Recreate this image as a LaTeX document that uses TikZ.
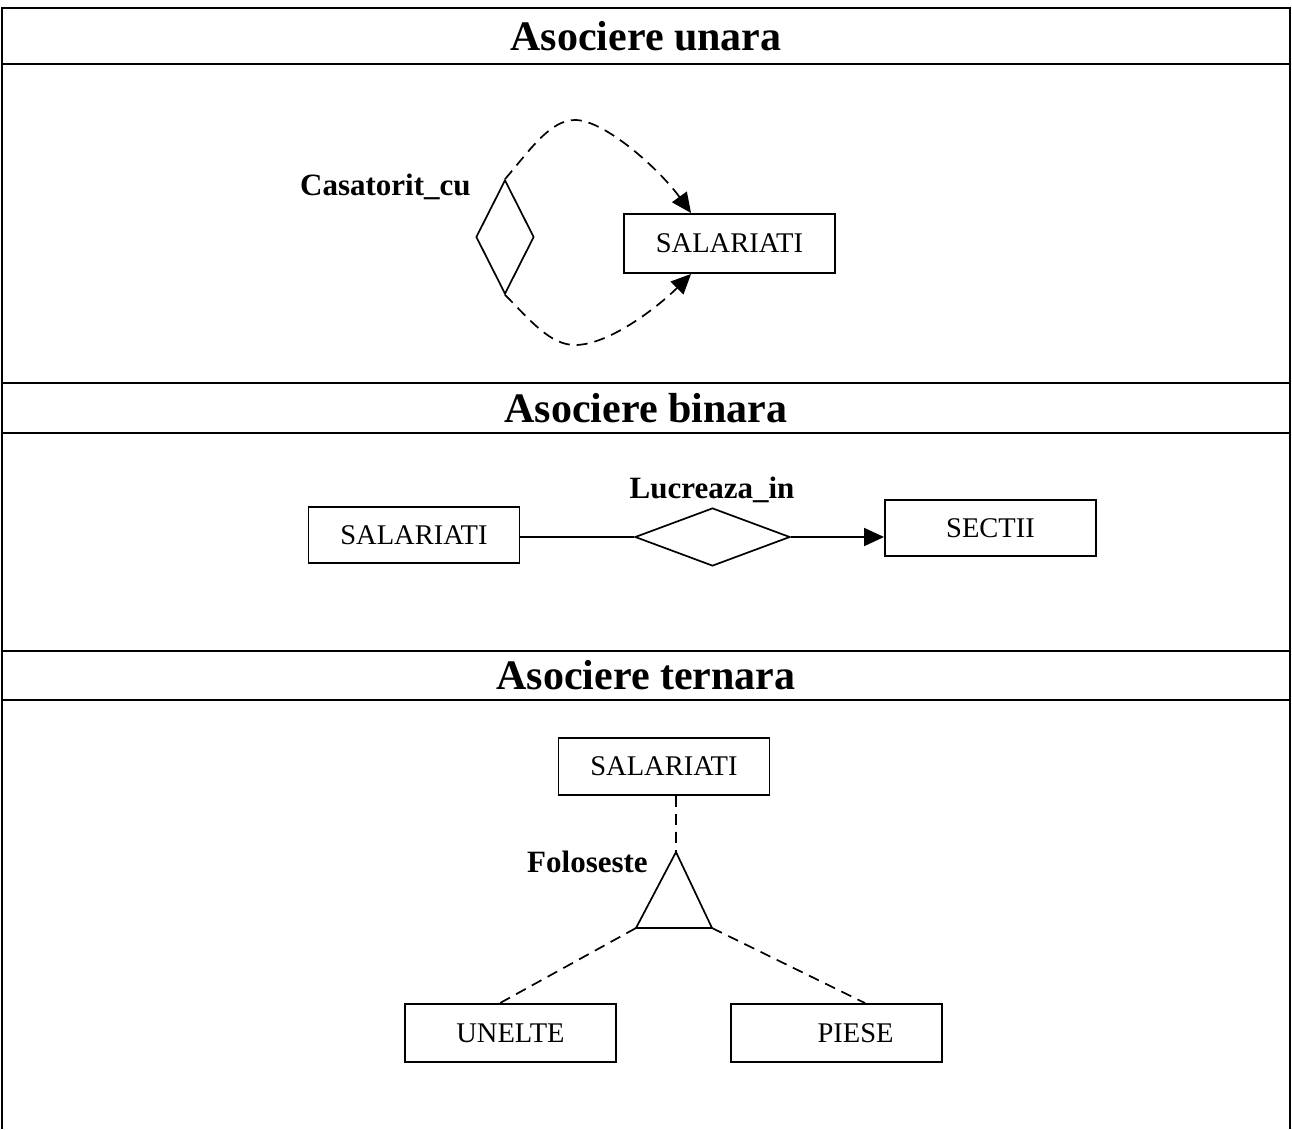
\documentclass[tikz,border=0pt]{standalone}
\usepackage{fontspec}
\setmainfont{Liberation Serif}
\usetikzlibrary{shapes.geometric,arrows.meta,calc}
\begin{document}
\begin{tikzpicture}[x=1pt,y=1pt,
  frame/.style={line width=2.4pt},
  entity/.style={draw,line width=1.9pt,minimum width=211pt,minimum height=57pt,inner sep=0pt,
    font=\fontsize{28.5}{33}\selectfont},
  relation/.style={draw,diamond,line width=1.7pt,inner sep=0pt},
  rolename/.style={font=\fontsize{31}{36}\selectfont\bfseries,inner sep=0pt},
  heading/.style={font=\fontsize{42}{48}\selectfont\bfseries,inner sep=0pt},
  link/.style={line width=1.7pt},
  dashlink/.style={link,dash pattern=on 11pt off 7pt},
  tip/.style={-{Triangle[length=20pt,width=18pt]}}
]
\useasboundingbox (0,0) rectangle (1292,-1129);

% table frame
\draw[frame] (2,-1129) -- (2,-8) -- (1290,-8) -- (1290,-1129);
\foreach \yy in {64,383,433,651,700}
  \draw[frame] (2,-\yy) -- (1290,-\yy);

% section headings
\node[heading] (h1) at (646,-36) {Asociere unara};
\node[heading] (h2) at (646,-408) {Asociere binara};
\node[heading] (h3) at (646,-675.5) {Asociere ternara};

% unary association
\node[relation,minimum width=58pt,minimum height=114pt] (d1) at (505,-237) {};
\node[entity,minimum height=59pt] (s1) at (729.5,-243.5) {SALARIATI};
\node[rolename,anchor=base west] (r1) at (300,-195) {Casatorit\_cu};
\draw[dashlink,tip] (d1.north) .. controls (530,-150) and (550,-120) .. (575,-120)
  .. controls (605,-120) and (660,-170) .. ([xshift=68pt]s1.north west);
\draw[dashlink,tip] (d1.south) .. controls (530,-320) and (550,-345) .. (575,-345)
  .. controls (610,-345) and (660,-305) .. ([xshift=68pt]s1.south west);

% binary association
\node[entity,minimum height=56pt] (s2) at (414,-535) {SALARIATI};
\node[relation,minimum width=155pt,minimum height=58pt] (d2) at (712.5,-537) {};
\node[entity,minimum height=56pt] (s3) at (990.5,-528) {SECTII};
\node[rolename,anchor=base] (r2) at (712,-498) {Lucreaza\_in};
\draw[link] (d2.west -| s2.east) -- (d2.west);
\draw[link,tip] (d2.east) -- (d2.east -| s3.west);

% ternary association
\node[entity] (s4) at (664,-766.5) {SALARIATI};
\coordinate (tA) at (676,-852);
\coordinate (tL) at (636,-928);
\coordinate (tR) at (712,-928);
\draw[link] (tA) -- (tL) -- (tR) -- cycle;
\node[rolename,anchor=base west] (r3) at (527,-872) {Foloseste};
\node[entity,minimum height=58pt] (u) at (510.5,-1033) {UNELTE};
\node[entity,minimum height=58pt] (p) at (836.5,-1033) {\hspace*{38pt}PIESE};
\draw[dashlink] (tA |- s4.south) -- (tA);
\draw[dashlink] (tL) -- ([xshift=-10.5pt]u.north);
\draw[dashlink] (tR) -- ([xshift=28.5pt]p.north);
\end{tikzpicture}
\end{document}
